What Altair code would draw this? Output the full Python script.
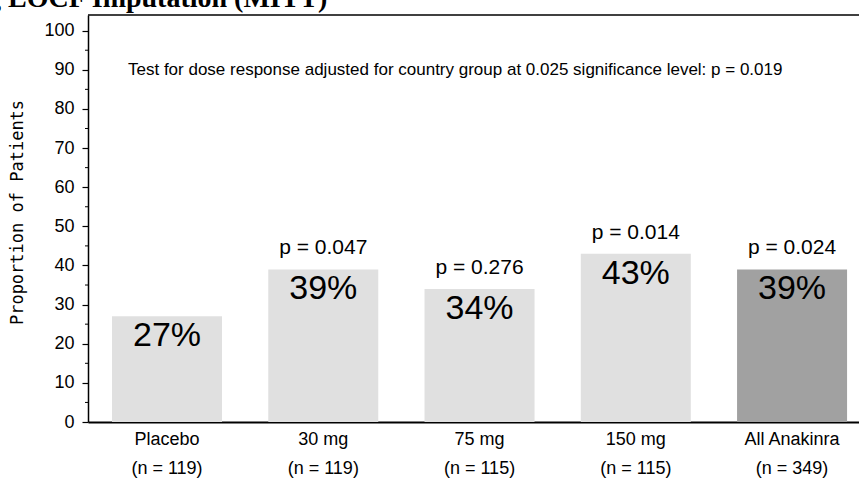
import altair as alt
import pandas as pd

# Responder rates by treatment arm
groups = ["Placebo", "30 mg", "75 mg", "150 mg", "All Anakinra"]
n_patients = [119, 119, 115, 115, 349]
responders_pct = [27, 39, 34, 43, 39]
p_values = ["", "p = 0.047", "p = 0.276", "p = 0.014", "p = 0.024"]
bar_colors = ["#e0e0e0", "#e0e0e0", "#e0e0e0", "#e0e0e0", "#a1a1a1"]

y_ticks = [0, 10, 20, 30, 40, 50, 60, 70, 80, 90, 100]
y_minor_ticks = [5, 15, 25, 35, 45, 55, 65, 75, 85, 95]

note = "Test for dose response adjusted for country group at 0.025 significance level: p = 0.019"
note_level = 90
heading = "g LOCF Imputation (MITT)"

W, H = 771, 407
FONT = "Liberation Sans"

df = pd.DataFrame({
    "group": [f"{g}\n(n = {n})" for g, n in zip(groups, n_patients)],
    "pct": responders_pct,
    "p": p_values,
    "color": bar_colors,
})
order = list(df["group"])

x_enc = alt.X(
    "group:N",
    sort=order,
    title=None,
    scale=alt.Scale(paddingInner=0.296, paddingOuter=0.115, align=0.668),
    axis=alt.Axis(
        labelExpr="split(datum.label, '\\n')",
        labelAngle=0,
        ticks=False,
        domainColor="black",
        domainWidth=2,
        labelFont=FONT,
        labelFontSize=18,
        labelColor="black",
        labelPadding=8,
        labelBaseline="top",
        labelLineHeight=29,
        labelAlign="center",
    ),
)
y_enc = alt.Y(
    "pct:Q",
    scale=alt.Scale(domain=[0, 104], nice=False, zero=True),
    axis=alt.Axis(
        values=y_ticks,
        title="Proportion of Patients",
        grid=False,
        labelFont=FONT,
        labelFontSize=18,
        labelColor="black",
        labelPadding=8,
        tickSize=6,
        tickColor="black",
        tickWidth=1.2,
        domainColor="black",
        domainWidth=1.5,
        titleFont="DejaVu Sans Mono",
        titleFontSize=17,
        titleFontWeight="normal",
        titleColor="black",
        titleX=-71,
        titleY=197,
        titleAngle=270,
        titleAlign="center",
        titleBaseline="middle",
    ),
)

base = alt.Chart(df)

bars = base.mark_bar().encode(
    x=x_enc,
    y=y_enc,
    color=alt.Color("color:N", scale=None),
)

pct_labels = base.transform_calculate(
    label="format(datum.pct, 'd') + '%'"
).mark_text(
    font=FONT, fontSize=34, color="black", baseline="alphabetic", dy=30
).encode(x=x_enc, y=y_enc, text="label:N")

p_labels = base.mark_text(
    font=FONT, fontSize=21, color="black", baseline="alphabetic", dy=-15
).encode(x=x_enc, y=y_enc, text="p:N")

# short unlabelled ticks halfway between the labelled ones
minor = alt.Chart(pd.DataFrame({"pct": y_minor_ticks})).mark_rule(
    color="black", strokeWidth=1
).encode(
    y=y_enc,
    x=alt.value(-3),
    x2=alt.value(0),
)

top_line = alt.Chart(pd.DataFrame({"a": [0]})).mark_rule(
    color="black", strokeWidth=1.5
).encode(x=alt.value(0), x2=alt.value(W), y=alt.value(0))

note_text = alt.Chart(pd.DataFrame({"t": [note]})).mark_text(
    font=FONT, fontSize=17, color="black", align="left", baseline="middle"
).encode(x=alt.value(40), y=alt.datum(note_level), text="t:N")

heading_text = alt.Chart(pd.DataFrame({"t": [heading]})).mark_text(
    font="Liberation Serif", fontSize=28, fontWeight="bold", color="black",
    align="left", baseline="alphabetic"
).encode(x=alt.value(-101), y=alt.value(-8), text="t:N")

chart = alt.layer(
    bars, pct_labels, p_labels, minor, top_line, note_text, heading_text
).properties(
    width=W,
    height=H,
    padding={"left": 88, "top": 15, "right": 0, "bottom": 67},
    autosize=alt.AutoSizeParams(type="none"),
    background="white",
).configure_view(stroke=None)

chart.save("out.html", embed_options={"renderer": "svg", "actions": False})
